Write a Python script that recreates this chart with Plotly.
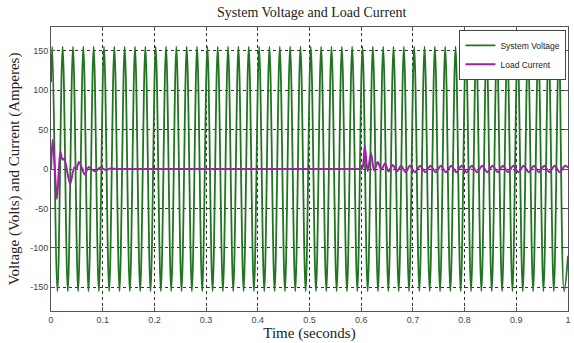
import numpy as np
import plotly.graph_objects as go

# ---- data ----
# System voltage: start value, then the successive peak/trough values (every half cycle, 50 Hz)
voltage_start = 110
voltage_peaks = [
    155, -155, 155, -155, 155, -155, 155, -155, 155, -155,
    155, -155, 155, -155, 155, -155, 155, -155, 155, -155,
    155, -155, 155, -155, 155, -155, 155, -155, 155, -155,
    155, -155, 155, -155, 155, -155, 155, -155, 155, -155,
    155, -155, 155, -155, 155, -155, 155, -155, 155, -155,
    155, -155, 155, -155, 155, -155, 155, -155, 155, -155,
    155, -155, 155, -155, 155, -155, 155, -155, 155, -155,
    155, -155, 155, -155, 155, -155, 155, -155, 155, -155,
    155, -155, 155, -155, 155, -155, 155, -155, 155, -155,
    155, -155, 155, -155, 155, -155, 155, -155, 155, -155,
]
voltage_end = -110
first_peak_time = 0.0025
half_period = 0.01

# Load current: key points (time in s, current in A)
current_t = [
    0.0, 0.003, 0.0065, 0.0115, 0.018, 0.022, 0.025, 0.029, 0.037, 0.045,
    0.049, 0.054, 0.060, 0.065, 0.073, 0.080, 0.086, 0.095, 0.105, 0.115,
    0.13, 0.2, 0.3, 0.4, 0.5, 0.598,
    0.601, 0.604, 0.607, 0.6125, 0.619, 0.625, 0.632, 0.639, 0.646, 0.653,
    0.661, 0.669, 0.677, 0.686, 0.694, 0.704, 0.714, 0.724, 0.734, 0.744,
    0.754, 0.764, 0.774, 0.784, 0.794, 0.804, 0.814, 0.824, 0.834, 0.844,
    0.854, 0.864, 0.874, 0.884, 0.894, 0.904, 0.914, 0.924, 0.934, 0.944,
    0.954, 0.964, 0.974, 0.984, 0.994, 1.0,
]
current_i = [
    0, 37, 10, -38, 22, 12, 13, 5, -19, 2,
    0, 9, 1, -7, 2.5, -1, -3, 2, -1, 0.5,
    0, 0, 0, 0, 0, 0,
    0, 6, 29, -3, 20, -2, 9, -1, 7, -3,
    5, -3, 4, -4, 4, -4, 4, -4, 4, -4,
    4, -4, 4, -4, 4, -4, 4, -4, 4, -4,
    4, -4, 4, -4, 4, -4, 4, -4, 4, -4,
    4, -4, 4, -4, 4, 2,
]

x_ticks = [0, 0.1, 0.2, 0.3, 0.4, 0.5, 0.6, 0.7, 0.8, 0.9, 1]
x_tick_labels = ["0", "0.1", "0.2", "0.3", "0.4", "0.5", "0.6", "0.7", "0.8", "0.9", "1"]
y_ticks = [-150, -100, -50, 0, 50, 100, 150]
y_tick_labels = ["-150", "-100", "-50", "0", "50", "100", "150"]

# ---- build ----
peak_times = first_peak_time + half_period * np.arange(len(voltage_peaks))
voltage_t = np.concatenate([[0.0], peak_times, [1.0]])
voltage_v = [voltage_start] + voltage_peaks + [voltage_end]

fig = go.Figure()
fig.add_trace(go.Scatter(
    x=voltage_t, y=voltage_v, mode="lines", name="System Voltage",
    line=dict(color="#217521", width=1.8, shape="spline", smoothing=1.0),
))
fig.add_trace(go.Scatter(
    x=current_t, y=current_i, mode="lines", name="Load Current",
    line=dict(color="#a020a8", width=2, shape="spline", smoothing=0.8),
))

serif = "Liberation Serif, Times New Roman, serif"
sans = "Liberation Sans, Arial, sans-serif"

fig.update_layout(
    width=574, height=343,
    margin=dict(l=51, r=3, t=27, b=32),
    paper_bgcolor="white", plot_bgcolor="white",
    title=dict(text="System Voltage and Load Current", x=0.543, xanchor="center",
               y=0.965, yanchor="middle",
               font=dict(family=serif, size=14, color="#222")),
    showlegend=True,
    legend=dict(x=0.997, y=0.99, xanchor="right", yanchor="top",
                bgcolor="white", bordercolor="#444", borderwidth=1,
                font=dict(family=sans, size=8.5, color="#222"),
                tracegroupgap=0, itemwidth=30),
)
fig.update_xaxes(
    range=[0, 1], tickvals=x_ticks, ticktext=x_tick_labels,
    showgrid=True, gridcolor="#333", griddash="dot", gridwidth=1,
    zeroline=False, showline=True, linecolor="#555", linewidth=1, mirror="ticks",
    ticks="inside", ticklen=4, tickcolor="#555",
    tickfont=dict(family=sans, size=9, color="#444"),
    title=dict(text="Time (seconds)", font=dict(family=serif, size=15, color="#222"), standoff=2),
)
fig.update_yaxes(
    range=[-180, 180], tickvals=y_ticks, ticktext=y_tick_labels,
    showgrid=True, gridcolor="#333", griddash="dot", gridwidth=1,
    zeroline=False, showline=True, linecolor="#555", linewidth=1, mirror="ticks",
    ticks="inside", ticklen=4, tickcolor="#555",
    tickfont=dict(family=sans, size=9, color="#444"),
    title=dict(text="Voltage (Volts) and Current (Amperes)",
               font=dict(family=serif, size=15, color="#222"), standoff=6),
)

fig.write_html(
    "out.html",
    config={"displayModeBar": False},
    post_script="document.body.style.margin='0';document.body.style.padding='0';",
)
